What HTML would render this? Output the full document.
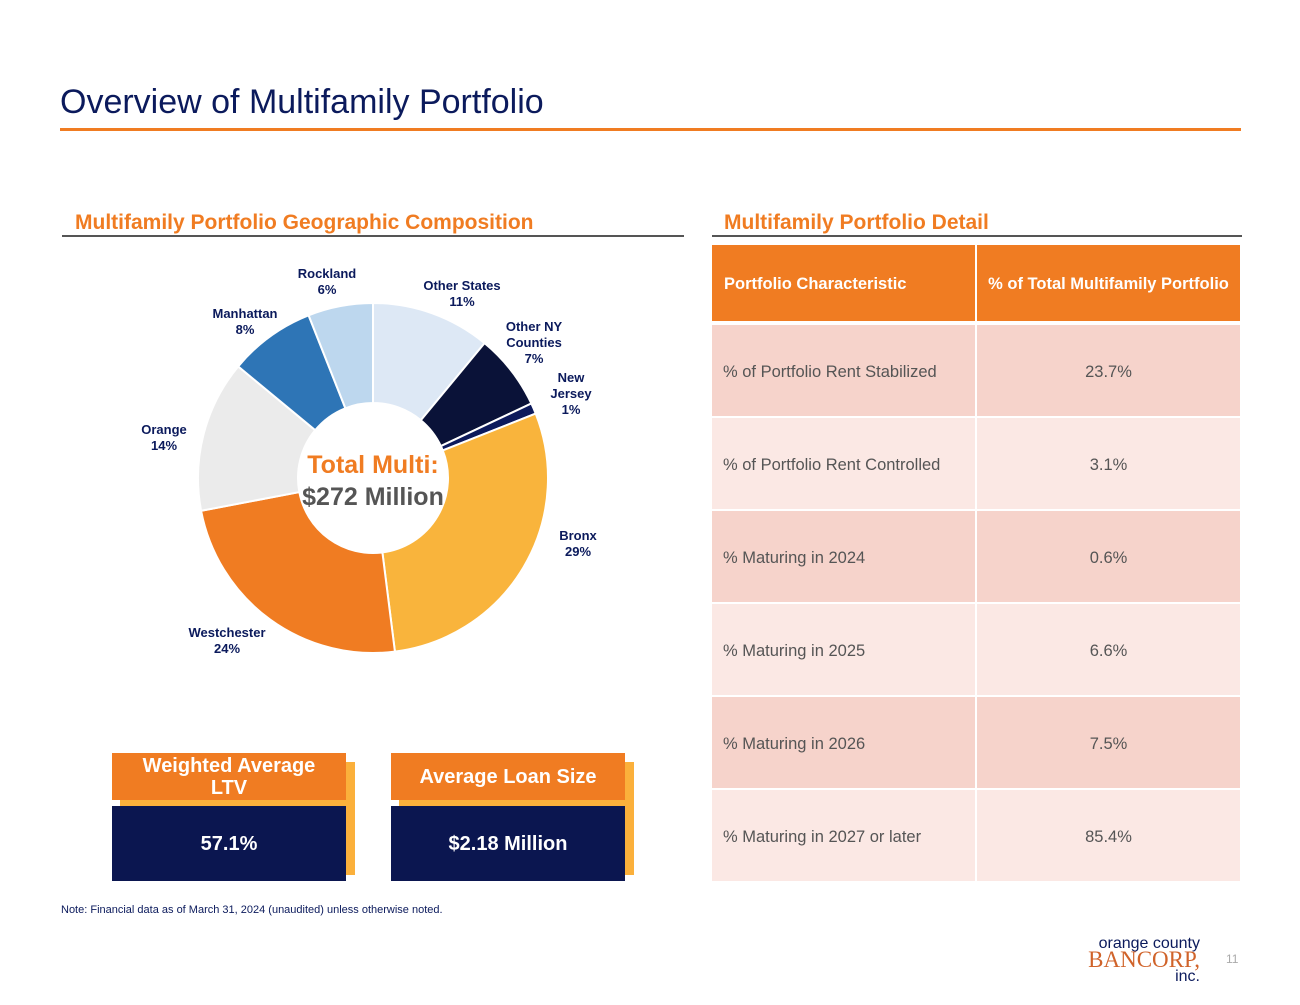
<!DOCTYPE html>
<html><head><meta charset="utf-8"><style>
body{margin:0;width:1300px;height:1005px;background:#fff;position:relative;overflow:hidden;font-family:"Liberation Sans",sans-serif}
.a{position:absolute}
.t{position:absolute;color:#fff;font-weight:bold;text-align:center}
</style></head><body>
<div class="a" style="left:60px;top:83px;font-size:34px;color:#0b1a5c">Overview of Multifamily Portfolio</div>
<div class="a" style="left:60px;top:128px;width:1181px;height:3px;background:#f07c22"></div>
<div class="a" style="left:75px;top:211px;font-size:21px;font-weight:bold;color:#f07c22">Multifamily Portfolio Geographic Composition</div>
<div class="a" style="left:62px;top:235px;width:622px;height:2px;background:#555"></div>
<div class="a" style="left:724px;top:211px;font-size:21px;font-weight:bold;color:#f07c22">Multifamily Portfolio Detail</div>
<div class="a" style="left:712px;top:235px;width:530px;height:2px;background:#555"></div>

<svg class="a" style="left:0;top:0" width="700" height="740" id="donut"></svg>

<div class="a" style="left:712px;top:245px;width:528px;height:636px" id="tbl"></div>

<div class="a" style="left:120px;top:762px;width:235px;height:113px;background:#fbb03b"></div>
<div class="t" style="left:112px;top:753px;width:234px;height:47px;background:#f07c22;font-size:20px;line-height:22px;padding-top:2px;box-sizing:border-box">Weighted Average<br>LTV</div>
<div class="t" style="left:112px;top:806px;width:234px;height:75px;background:#0b1650;font-size:20px;line-height:77px">57.1%</div>
<div class="a" style="left:399px;top:762px;width:235px;height:113px;background:#fbb03b"></div>
<div class="t" style="left:391px;top:753px;width:234px;height:47px;background:#f07c22;font-size:20px;line-height:49px">Average Loan Size</div>
<div class="t" style="left:391px;top:806px;width:234px;height:75px;background:#0b1650;font-size:20px;line-height:77px">$2.18 Million</div>

<div class="a" style="left:61px;top:904px;font-size:11px;color:#0b1a5c">Note: Financial data as of March 31, 2024 (unaudited) unless otherwise noted.</div>
<div class="a" style="left:1088px;top:936px;width:112px;text-align:right;line-height:15px">
<div style="font-size:16px;color:#0b1a5c">orange county</div>
<div style="font-family:'Liberation Serif',serif;font-size:23px;color:#d0632a;line-height:18px">BANCORP,</div>
<div style="font-size:16px;color:#0b1a5c">inc.</div></div>
<div class="a" style="left:1226px;top:952px;font-size:12px;color:#aaa">11</div>

<script>
const labels=["Other States","Other NY Counties","New Jersey","Bronx","Westchester","Orange","Manhattan","Rockland"];
const values=[11,7,1,29,24,14,8,6];
const colors=["#dde8f5","#0a1238","#0d1a5c","#f9b43c","#f07c22","#ebebeb","#2e75b6","#bdd7ee"];
const labelPos=[[462,298],[534,347],[571,398],[578,548],[227,645],[164,442],[245,326],[327,286]];
const labelLines=[["Other States"],["Other NY","Counties"],["New","Jersey"],["Bronx"],["Westchester"],["Orange"],["Manhattan"],["Rockland"]];
const NS="http://www.w3.org/2000/svg";
const svg=document.getElementById('donut');
const cx=373,cy=478,R=175,r=75;
const total=values.reduce((a,b)=>a+b,0);
let ang=0;
function pt(a,rad){return [cx+rad*Math.sin(a),cy-rad*Math.cos(a)];}
values.forEach((v,i)=>{
 const a0=ang,a1=ang+v/total*2*Math.PI;ang=a1;
 const [x0,y0]=pt(a0,R),[x1,y1]=pt(a1,R),[x2,y2]=pt(a1,r),[x3,y3]=pt(a0,r);
 const lg=a1-a0>Math.PI?1:0;
 const p=document.createElementNS(NS,'path');
 p.setAttribute('d',`M${x0},${y0}A${R},${R} 0 ${lg} 1 ${x1},${y1}L${x2},${y2}A${r},${r} 0 ${lg} 0 ${x3},${y3}Z`);
 p.setAttribute('fill',colors[i]);p.setAttribute('stroke','#fff');p.setAttribute('stroke-width','2');
 
 
 svg.appendChild(p);
 const t=document.createElementNS(NS,'text');
 
 
 t.setAttribute('text-anchor','middle');t.setAttribute('font-size','13');t.setAttribute('font-weight','bold');t.setAttribute('fill','#0b1a5c');
 const lines=labelLines[i].concat([v+'%']);
 const [lx,ly]=labelPos[i];
 lines.forEach((s,k)=>{const ts=document.createElementNS(NS,'tspan');ts.setAttribute('x',lx);ts.setAttribute('y',ly-(lines.length-1)*8+k*16);ts.textContent=s;t.appendChild(ts);});
 svg.appendChild(t);
});
const c1=document.createElementNS(NS,'text');


c1.setAttribute('x',cx);c1.setAttribute('y',473);c1.setAttribute('text-anchor','middle');c1.setAttribute('font-size','25');c1.setAttribute('font-weight','bold');c1.setAttribute('fill','#f07c22');c1.textContent='Total Multi:';svg.appendChild(c1);
const c2=document.createElementNS(NS,'text');


c2.setAttribute('x',cx);c2.setAttribute('y',505);c2.setAttribute('text-anchor','middle');c2.setAttribute('font-size','25');c2.setAttribute('font-weight','bold');c2.setAttribute('fill','#555');c2.textContent='$272 Million';svg.appendChild(c2);

const rowNames=["% of Portfolio Rent Stabilized","% of Portfolio Rent Controlled","% Maturing in 2024","% Maturing in 2025","% Maturing in 2026","% Maturing in 2027 or later"];
const rowVals=["23.7%","3.1%","0.6%","6.6%","7.5%","85.4%"];
const tbl=document.getElementById('tbl');
function cell(x,y,w,h,bg,txt,style){const d=document.createElement('div');d.className='a';d.style.cssText=`left:${x}px;top:${y}px;width:${w}px;height:${h}px;background:${bg};line-height:${h+3}px;font-size:16.5px;box-sizing:border-box;${style}`;d.textContent=txt;tbl.appendChild(d);return d;}
let h1=cell(0,0,263,76,'#f07c22','Portfolio Characteristic','color:#fff;font-weight:bold;padding-left:12px');


let h2=cell(265,0,263,76,'#f07c22','% of Total Multifamily Portfolio','color:#fff;font-weight:bold;text-align:center');


rowNames.forEach((n,i)=>{
 const y=80+i*93,bg=i%2?'#fbe8e4':'#f6d3cb';
 const a=cell(0,y,263,91,bg,n,'color:#555;padding-left:11px');
 
 
 const b=cell(265,y,263,91,bg,rowVals[i],'color:#555;text-align:center');
 
 
});
</script>
</body></html>
